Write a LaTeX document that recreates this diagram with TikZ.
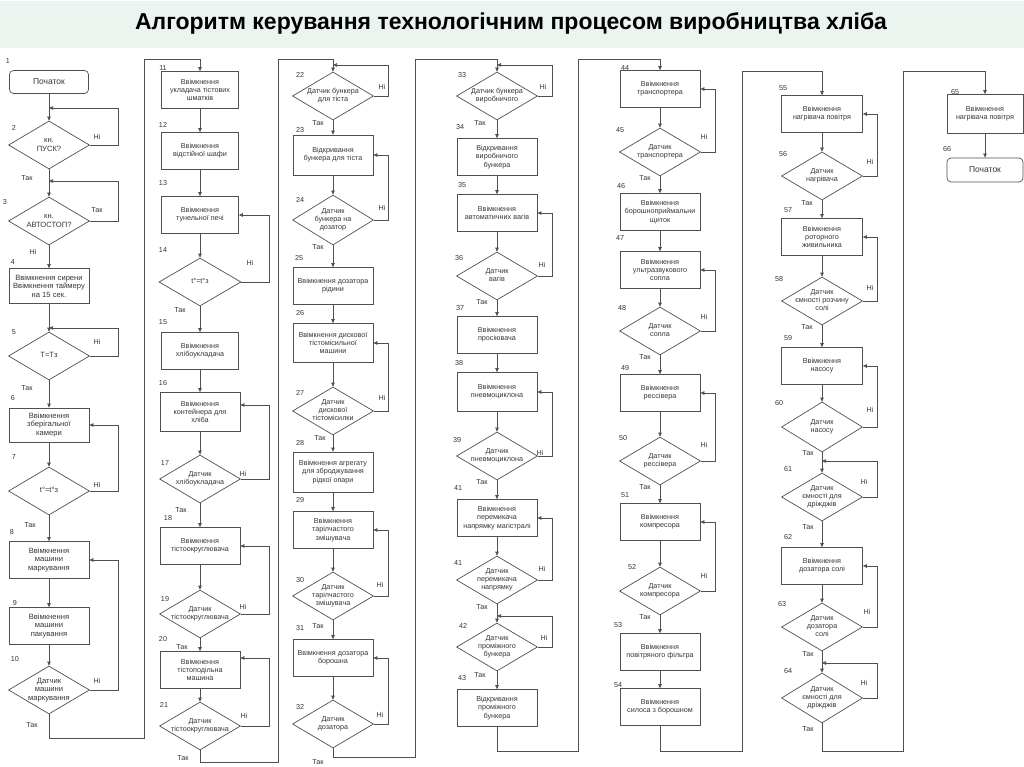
\documentclass[tikz,border=0pt]{standalone}
\usepackage{fontspec}
\setmainfont{Liberation Sans}
\usetikzlibrary{shapes.geometric,arrows.meta}

\definecolor{ink}{HTML}{353535}
\definecolor{edge}{HTML}{505050}
\definecolor{band}{HTML}{EBF4EF}

% text of a decision, kept from widening the diamond
\newcommand{\dlines}[1]{\makebox[0pt]{\begin{tabular}{@{}c@{}}#1\end{tabular}}}

\tikzset{
  every node/.style={text=ink, font=\fontsize{7.2}{8.2}\selectfont},
  proc/.style={draw=edge, line width=0.7pt, rectangle, minimum width=80pt, minimum height=37pt, inner sep=1pt, align=center},
  term/.style={draw=edge, line width=0.7pt, rectangle, rounded corners=4pt, minimum width=79pt, minimum height=23pt, font=\fontsize{8.5}{10}\selectfont},
  dec/.style={draw=edge, line width=0.7pt, diamond, minimum width=81pt, minimum height=48pt, inner sep=0pt},
  arr/.style={draw=edge, line width=0.7pt, -{Triangle[length=4pt,width=3.5pt]}},
  num/.style={inner sep=0pt},
  big/.style={font=\fontsize{7.6}{8.6}\selectfont}
}

\begin{document}
\begin{tikzpicture}[x=1pt,y=-1pt]
\useasboundingbox (0,0) rectangle (1024,767);

\fill[band] (0,1) rectangle (1024,48);
\node[font=\fontsize{23}{27}\selectfont\bfseries, text=black] (title) at (511,23) {Алгоритм керування технологічним процесом виробництва хліба};

% column 1
\node[term] (p1) at (49,82) {Початок};
\node[dec, big] (d2) at (49,145) {\dlines{кн.\\ПУСК?}};
\node[dec, big] (d3) at (49,221) {\dlines{кн.\\АВТОСТОП?}};
\node[proc, big, minimum height=35pt] (b4) at (49,286) {Ввімкнення сирени\\Ввімкнення таймеру\\на 15 сек.};
\node[dec, big] (d5) at (49,356) {\dlines{Т=Тз}};
\node[proc, big, minimum height=34pt] (b6) at (49,425) {Ввімкнення\\зберігальної\\камери};
\node[dec, big] (d7) at (49,491) {\dlines{t°=t°з}};
\node[proc, big] (b8) at (49,560) {Ввімкнення\\машини\\маркування};
\node[proc, big] (b9) at (49,626) {Ввімкнення\\машини\\пакування};
\node[dec, big] (d10) at (49,690) {\dlines{Датчик\\машини\\маркування}};

% column 2
\node[proc, minimum width=77pt] (b11) at (200,90) {Ввімкнення\\укладача тістових\\шматків};
\node[proc, minimum width=77pt] (b12) at (200,151) {Ввімкнення\\відстійної шафи};
\node[proc, minimum width=77pt] (b13) at (200,215) {Ввімкнення\\тунельної печі};
\node[dec, minimum width=82pt] (d14) at (200,282) {\dlines{t°=t°з}};
\node[proc, minimum width=77pt] (b15) at (200,351) {Ввімкнення\\хлібоукладача};
\node[proc, minimum height=39pt] (b16) at (200,412) {Ввімкнення\\контейнера для\\хліба};
\node[dec] (d17) at (200,479) {\dlines{Датчик\\хлібоукладача}};
\node[proc] (b18) at (200,546) {Ввімкнення\\тістоокруглювача};
\node[dec] (d19) at (200,614) {\dlines{Датчик\\тістоокруглювача}};
\node[proc] (b20) at (200,670) {Ввімкнення\\тістоподільна\\машина};
\node[dec] (d21) at (200,726) {\dlines{Датчик\\тістоокруглювача}};

% column 3
\node[dec] (d22) at (333,96) {\dlines{Датчик бункера\\для тіста}};
\node[proc, minimum height=40pt] (b23) at (333,155) {Відкривання\\бункера для тіста};
\node[dec, minimum height=50pt] (d24) at (333,220) {\dlines{Датчик\\бункера на\\дозатор}};
\node[proc] (b25) at (333,286) {Ввімкнення дозатора\\рідини};
\node[proc, minimum height=39pt] (b26) at (333,343) {Ввімкнення дискової\\тістомісильної\\машини};
\node[dec] (d27) at (333,411) {\dlines{Датчик\\дискової\\тістомісилки}};
\node[proc, minimum height=40pt] (b28) at (333,472) {Ввімкнення агрегату\\для зброджування\\рідкої опари};
\node[proc] (b29) at (333,530) {Ввімкнення\\тарілчастого\\змішувача};
\node[dec] (d30) at (333,596) {\dlines{Датчик\\тарілчастого\\змішувача}};
\node[proc] (b31) at (333,658) {Ввімкнення дозатора\\борошна};
\node[dec] (d32) at (333,724) {\dlines{Датчик\\дозатора}};

% column 4
\node[dec] (d33) at (497,96) {\dlines{Датчик бункера\\виробничого}};
\node[proc] (b34) at (497,157) {Відкривання\\виробничого\\бункера};
\node[proc] (b35) at (497,213) {Ввімкнення\\автоматичних вагів};
\node[dec] (d36) at (497,276) {\dlines{Датчик\\вагів}};
\node[proc] (b37) at (497,335) {Ввімкнення\\просіювача};
\node[proc, minimum height=39pt] (b38) at (497,392) {Ввімкнення\\пневмоциклона};
\node[dec] (d39) at (497,456) {\dlines{Датчик\\пневмоциклона}};
\node[proc] (b41) at (497,518) {Ввімкнення\\перемикача\\напрямку магістралі};
\node[dec] (d41) at (497,580) {\dlines{Датчик\\перемикача\\напрямку}};
\node[dec] (d42) at (497,647) {\dlines{Датчик\\проміжного\\бункера}};
\node[proc] (b43) at (497,708) {Відкривання\\проміжного\\бункера};

% column 5
\node[proc] (b44) at (660,89) {Ввімкнення\\транспортера};
\node[dec] (d45) at (660,152) {\dlines{Датчик\\транспортера}};
\node[proc] (b46) at (660,212) {Ввімкнення\\борошноприймальни\\щиток};
\node[proc] (b47) at (660,270) {Ввімкнення\\ультразвукового\\сопла};
\node[dec] (d48) at (660,331) {\dlines{Датчик\\сопла}};
\node[proc] (b49) at (660,393) {Ввімкнення\\рессівера};
\node[dec] (d50) at (660,461) {\dlines{Датчик\\рессівера}};
\node[proc] (b51) at (660,522) {Ввімкнення\\компресора};
\node[dec] (d52) at (660,591) {\dlines{Датчик\\компресора}};
\node[proc] (b53) at (660,652) {Ввімкнення\\повітряного фільтра};
\node[proc] (b54) at (660,707) {Ввімкнення\\силоса з борошном};

% column 6
\node[proc, minimum width=81pt] (b55) at (822,114) {Ввімкнення\\нагрівача повітря};
\node[dec] (d56) at (822,176) {\dlines{Датчик\\нагрівача}};
\node[proc, minimum width=81pt] (b57) at (822,237) {Ввімкнення\\роторного\\живильника};
\node[dec] (d58) at (822,301) {\dlines{Датчик\\ємності розчину\\солі}};
\node[proc, minimum width=81pt] (b59) at (822,366) {Ввімкнення\\насосу};
\node[dec, minimum height=50pt] (d60) at (822,427) {\dlines{Датчик\\насосу}};
\node[dec] (d61) at (822,497) {\dlines{Датчик\\ємності для\\дріжджів}};
\node[proc, minimum width=81pt] (b62) at (822,566) {Ввімкнення\\дозатора солі};
\node[dec] (d63) at (822,627) {\dlines{Датчик\\дозатора\\солі}};
\node[dec, minimum height=50pt] (d64) at (822,698) {\dlines{Датчик\\ємності для\\дріжджів}};

% column 7
\node[proc, minimum width=76pt, minimum height=39pt] (b65) at (985,114) {Ввімкнення\\нагрівача повітря};
\node[term, minimum width=76pt, minimum height=24pt] (p66) at (985,170) {Початок};

% joints of the loops and the turns between columns
\coordinate (j2) at (49,108);
\coordinate (j3) at (49,181);
\coordinate (j5) at (49,328);
\coordinate (j16) at ([yshift=7pt]b16.east);
\coordinate (j20) at ([yshift=12pt]b20.east);
\coordinate (j22) at (333,65);
\coordinate (j33) at (497,65);
\coordinate (j42) at (497,616);
\coordinate (j61) at (822,461);
\coordinate (j64) at (822,663);
\coordinate (c1) at (144,59);
\coordinate (c2) at (278,59);
\coordinate (c3) at (415,59);
\coordinate (c4) at (578,59);
\coordinate (c5) at (742,71);
\coordinate (c6) at (903,71);

\foreach \a/\b in {p1/d2, d2/d3, d3/b4, b4/d5, d5/b6, b6/d7, d7/b8, b8/b9, b9/d10,
		b11/b12, b12/b13, b13/d14, d14/b15, b15/b16, b16/d17, d17/b18, b18/d19, d19/b20, b20/d21,
		d22/b23, b23/d24, d24/b25, b25/b26, b26/d27, d27/b28, b28/b29, b29/d30, d30/b31, b31/d32,
		d33/b34, b34/b35, b35/d36, d36/b37, b37/b38, b38/d39, d39/b41, b41/d41, d41/d42, d42/b43,
		b44/d45, d45/b46, b46/b47, b47/d48, d48/b49, b49/d50, d50/b51, b51/d52, d52/b53, b53/b54,
		b55/d56, d56/b57, b57/d58, d58/b59, b59/d60, d60/d61, d61/b62, b62/d63, d63/d64,
		b65/p66}
{
	\draw[arr] (\a.south) -- (\b.north);
};

\foreach \d/\t/\o in {d2/j2/28, d3/j3/28, d5/j5/28, d7/b6.east/28, d10/b8.east/28,
		d14/b13.east/28, d17/j16/28, d19/b18.east/28, d21/j20/28,
		d22/j22/14, d24/b23.east/14, d27/b26.east/14, d30/b29.east/14, d32/b31.east/14,
		d33/j33/14, d36/b35.east/14, d39/b38.east/14, d41/b41.east/14, d42/j42/14,
		d45/b44.east/14, d48/b47.east/14, d50/b49.east/14, d52/b51.east/14,
		d56/b55.east/14, d58/b57.east/14, d60/b59.east/14, d61/j61/14, d63/b62.east/14, d64/j64/14}
{
	\draw[arr] (\d.east) -- ++(\o,0) |- (\t);
};

\draw[arr] (d10.south) -- ++(0,24) -| (c1) -| (b11.north);
\draw[arr] (d21.south) -- ++(0,12) -| (c2) -| (d22.north);
\draw[arr] (d32.south) -- ++(0,9) -| (c3) -| (d33.north);
\draw[arr] (b43.south) -- ++(0,24) -| (c4) -| (b44.north);
\draw[arr] (b54.south) -- ++(0,25) -| (c5) -| (b55.north);
\draw[arr] (d64.south) -- ++(0,28) -| (c6) -| (b65.north);

% answers
\foreach \t/\x/\y [count=\k] in {Ні/97/137, Так/97/210, Ні/97/342, Ні/97/485, Ні/97/681,
		Так/27/178, Ні/33/252, Так/27/388, Так/30/525, Так/32/725,
		Ні/250/263, Ні/243/474, Ні/243/607, Ні/244/716,
		Так/180/310, Так/181/510, Так/182/647, Так/183/758,
		Ні/382/87, Ні/382/208, Ні/382/398, Ні/380/585, Ні/380/715,
		Так/318/123, Так/318/247, Так/320/438, Так/318/626, Так/318/762,
		Ні/543/87, Ні/542/265, Ні/540/453, Ні/542/569, Ні/544/638,
		Так/480/123, Так/482/302, Так/482/482, Так/482/607, Так/480/675,
		Ні/704/137, Ні/704/317, Ні/704/445, Ні/704/576,
		Так/645/178, Так/645/357, Так/645/487, Так/645/617,
		Ні/870/162, Ні/870/288, Ні/870/410, Ні/864/482, Ні/867/612, Ні/864/683,
		Так/807/203, Так/807/327, Так/808/453, Так/808/527, Так/808/654, Так/808/729}
{
	\node[num] (ans\k) at (\x,\y) {\t};
};

% step numbers
\foreach \n/\x/\y [count=\k] in {1/8/61, 2/14/128, 3/5/202, 4/13/262, 5/14/332, 6/13/398, 7/14/457, 8/12/532, 9/15/603, 10/15/659,
		11/163/68, 12/163/125, 13/163/183, 14/163/250, 15/163/322, 16/163/383, 17/165/463, 18/168/518, 19/165/599, 20/163/639, 21/164/705,
		22/300/75, 23/300/130, 24/300/200, 25/299/258, 26/300/313, 27/300/393, 28/300/443, 29/300/500, 30/300/580, 31/300/628, 32/300/707,
		33/462/75, 34/460/127, 35/462/185, 36/459/258, 37/460/308, 38/459/363, 39/457/440, 41/458/488, 41/458/563, 42/463/626, 43/462/678,
		44/625/68, 45/620/130, 46/621/186, 47/620/238, 48/622/308, 49/625/368, 50/623/438, 51/625/495, 52/632/567, 53/618/625, 54/618/685,
		55/783/88, 56/783/154, 57/788/210, 58/779/279, 59/788/338, 60/779/403, 61/788/469, 62/788/537, 63/782/604, 64/788/671,
		65/955/92, 66/947/149}
{
	\node[num] (step\k) at (\x,\y) {\n};
};
\end{tikzpicture}
\end{document}
